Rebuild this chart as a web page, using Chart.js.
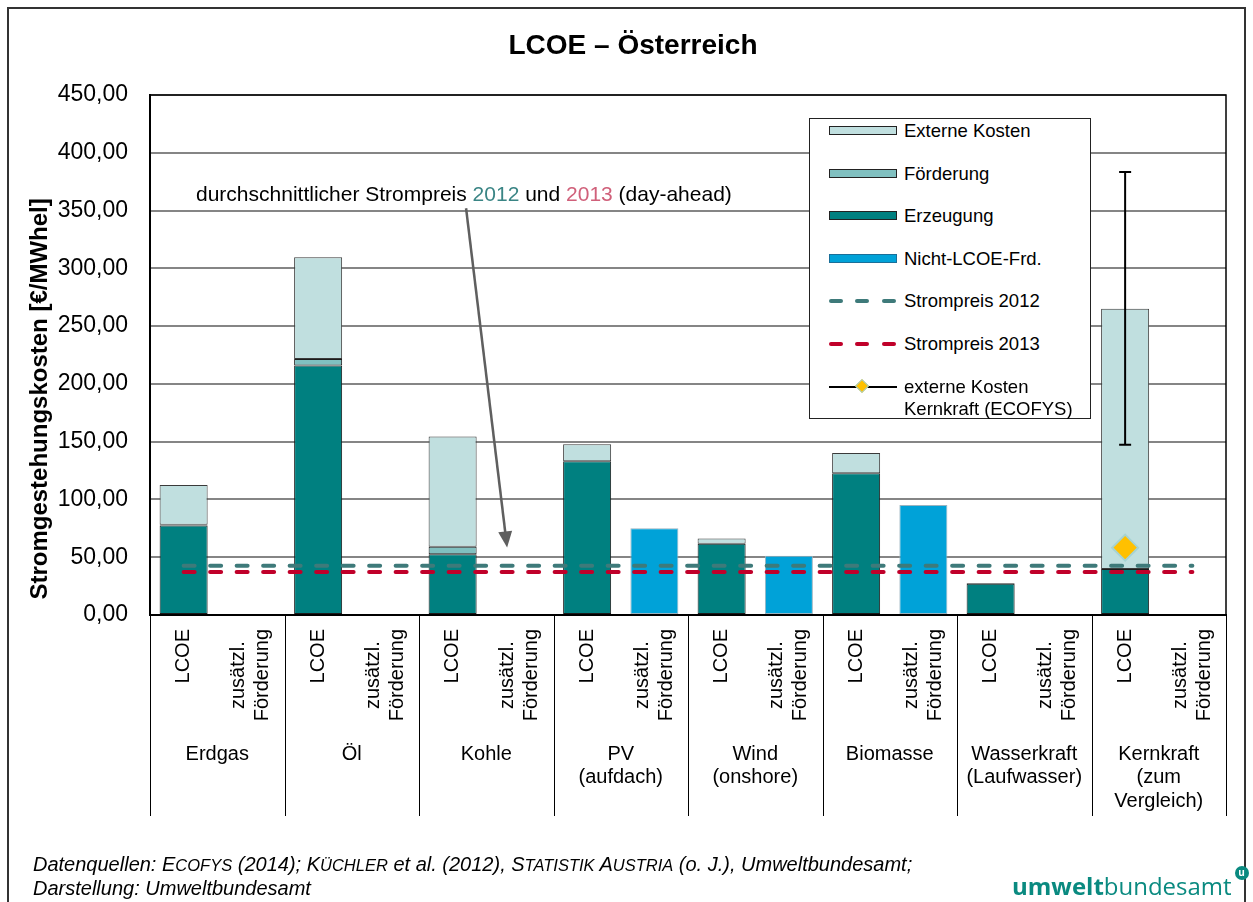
<!DOCTYPE html>
<html>
<head>
<meta charset="utf-8">
<title>LCOE – Österreich</title>
<script src="https://cdn.jsdelivr.net/npm/chart.js@4.4.1/dist/chart.umd.min.js"></script>
<style>
    body { margin: 0; background: #fff; font-family: "Liberation Sans", Arial, sans-serif; }
    #wrap { position: relative; width: 1253px; height: 902px; overflow: hidden; }
    #frame { position: absolute; left: 7px; top: 7px; width: 1239px; height: 940px; border: 2px solid #333; box-sizing: border-box; }
    #lcoeChart { position: absolute; left: 0; top: 0; }
    #legend { position: absolute; left: 809px; top: 118px; width: 282px; height: 301px; border: 1px solid #222; background: #fff; box-sizing: border-box; font-size: 18.5px; color: #000; }
    .row { position: absolute; left: 0; width: 100%; }
    .sw { position: absolute; left: 19px; width: 68px; height: 9px; border: 1px solid #222; box-sizing: border-box; }
    .dash { position: absolute; width: 14px; height: 4px; border-radius: 2px; }
    .txt { position: absolute; left: 94px; line-height: 22px; white-space: nowrap; }
    #source { position: absolute; left: 33px; top: 853px; font-style: italic; font-size: 20px; line-height: 23px; color: #000; white-space: nowrap; }
    .sm { font-size: 16.5px; }
    #logo { position: absolute; left: 1012px; top: 869px; font-size: 24px; color: #0a8a80; white-space: nowrap; font-family: "Open Sans", "Liberation Sans", sans-serif; }
    #logo b { font-weight: 700; }
    #logo .u { position: absolute; right: -17px; top: -3px; width: 14px; height: 14px; border-radius: 7px; background: #0a8a80; color: #fff; font-size: 10px; line-height: 13px; text-align: center; font-weight: 700; }
</style>
</head>
<body>
<div id="wrap">
    <canvas id="lcoeChart" width="1253" height="902"></canvas>
    <div id="frame"></div>
    <div id="legend"></div>
    <div id="source">Datenquellen: E<span class="sm">COFYS</span> (2014); K<span class="sm">ÜCHLER</span> et al. (2012), S<span class="sm">TATISTIK</span> A<span class="sm">USTRIA</span> (o. J.), Umweltbundesamt;<br>Darstellung: Umweltbundesamt</div>
    <div id="logo"><b>umwelt</b>bundesamt<span class="u">u</span></div>
</div>
<script>
// Categories: each group has an LCOE column and a "zusätzl. Förderung" column
const groups = ['Erdgas', 'Öl', 'Kohle', ['PV', '(aufdach)'], ['Wind', '(onshore)'], 'Biomasse',
    ['Wasserkraft', '(Laufwasser)'], ['Kernkraft', '(zum', 'Vergleich)']];
const subLabels = ['LCOE', ['zusätzl.', 'Förderung']];

// Values in €/MWhel, one entry per column (LCOE, zusätzl. Förderung) x group
const erzeugung     = [77.5, null, 216.0, null, 52.5, null, 133.0, null, 61.7, null, 122.6, null, 27.0, null, 39.8, null];
const foerderung    = [0.6,  null, 5.5,   null, 6.5,  null, null,  null, null, null, null,  null, null, null, null, null];
const externeKosten = [34.4, null, 88.0,  null, 95.5, null, 14.7,  null, 4.6,  null, 17.6,  null, 0.6,  null, 225.3, null];
const nichtLcoeFrd  = [null, null, null,  null, null, null, null,  75.0, null, 51.3, null,  95.2, null, null, null, null];

// Average day-ahead electricity prices
const strompreis2012 = 42.7;
const strompreis2013 = 37.2;

// External costs nuclear (ECOFYS): point value and range
const ecofysKern     = [null, null, null, null, null, null, null, null, null, null, null, null, null, null, 58.3, null];
const ecofysKernLow  = [null, null, null, null, null, null, null, null, null, null, null, null, null, null, 147.4, null];
const ecofysKernHigh = [null, null, null, null, null, null, null, null, null, null, null, null, null, null, 383.4, null];

const yTicks = { min: 0, max: 450, step: 50 };

const chartTitle = 'LCOE – Österreich';
const yTitle = 'Stromgestehungskosten [€/MWhel]';

const FONT = '"Liberation Sans", Arial, sans-serif';
const colors = {
    externe: '#c0dfdf',
    foerderung: '#80c0c0',
    erzeugung: '#008080',
    nicht: '#00a2d8',
    p2012: '#3e7a7a',
    p2013: '#c0002a'
};

// one label per column
const labels = [];
groups.forEach(g => {
    const name = Array.isArray(g) ? g.join(' ') : g;
    labels.push(name + ' LCOE');
    labels.push(name + ' zusätzl. Förderung');
});

const priceLine = v => labels.map(() => v);

// Legend (HTML, built from the dataset colours)
function buildLegend() {
    const legend = document.getElementById('legend');
    const items = [
        { text: 'Externe Kosten', fill: colors.externe },
        { text: 'Förderung', fill: colors.foerderung },
        { text: 'Erzeugung', fill: colors.erzeugung },
        { text: 'Nicht-LCOE-Frd.', fill: colors.nicht, border: '#1a6f99' },
        { text: 'Strompreis 2012', dash: colors.p2012 },
        { text: 'Strompreis 2013', dash: colors.p2013 },
        { text: 'externe Kosten<br>Kernkraft (ECOFYS)', marker: true }
    ];
    items.forEach((it, i) => {
        const row = document.createElement('div');
        row.className = 'row';
        const cy = 12 + i * 42.6;
        row.style.top = (cy - 11) + 'px';
        let html = '';
        if (it.fill) {
            html += `<div class="sw" style="top:6px;background:${it.fill};${it.border ? 'border-color:' + it.border : ''}"></div>`;
        } else if (it.dash) {
            [19, 45, 72].forEach(x => {
                html += `<div class="dash" style="left:${x}px;top:9px;background:${it.dash}"></div>`;
            });
        } else if (it.marker) {
            html += `<div style="position:absolute;left:19px;top:10px;width:68px;height:2px;background:#000"></div>`;
            html += `<div style="position:absolute;left:47px;top:5px;width:8px;height:8px;background:#ffc000;border:1px solid #9fd0d0;transform:rotate(45deg)"></div>`;
        }
        html += `<div class="txt" style="top:0">${it.text}</div>`;
        row.innerHTML = html;
        legend.appendChild(row);
    });
}

// Titles, plot frame, multi-level x labels, annotation arrow and ECOFYS range
const decorations = {
    id: 'decorations',
    beforeDatasetsDraw(chart) {
        const { ctx, chartArea: a } = chart;
        ctx.save();
        ctx.strokeStyle = '#000';
        ctx.lineWidth = 1.5;
        ctx.strokeRect(a.left, a.top, a.right - a.left, a.bottom - a.top);
        ctx.restore();
    },
    afterDatasetsDraw(chart) {
        const { ctx } = chart;
        const x = chart.scales.x;
        const y = chart.scales.y;

        // ECOFYS range whisker
        ctx.save();
        ctx.strokeStyle = '#000';
        ctx.lineWidth = 2;
        ecofysKernLow.forEach((lo, i) => {
            if (lo === null) return;
            const px = x.getPixelForValue(i);
            const y1 = y.getPixelForValue(lo);
            const y2 = y.getPixelForValue(ecofysKernHigh[i]);
            ctx.beginPath();
            ctx.moveTo(px, y1); ctx.lineTo(px, y2);
            ctx.moveTo(px - 6, y1); ctx.lineTo(px + 6, y1);
            ctx.moveTo(px - 6, y2); ctx.lineTo(px + 6, y2);
            ctx.stroke();
        });
        ctx.restore();
    },
    afterDraw(chart) {
        const { ctx, chartArea: a } = chart;
        const x = chart.scales.x;
        const y = chart.scales.y;
        const colW = (a.right - a.left) / labels.length;

        ctx.save();
        // chart title
        ctx.fillStyle = '#000';
        ctx.textAlign = 'center';
        ctx.textBaseline = 'middle';
        ctx.font = 'bold 28px ' + FONT;
        ctx.fillText(chartTitle, 633, 46);

        // y axis title
        ctx.save();
        ctx.translate(40, y.getPixelForValue(187));
        ctx.rotate(-Math.PI / 2);
        ctx.font = 'bold 24px ' + FONT;
        ctx.fillText(yTitle, 0, 0);
        ctx.restore();

        // group separators below the axis
        ctx.strokeStyle = '#000';
        ctx.lineWidth = 1;
        for (let g = 0; g <= groups.length; g++) {
            const px = Math.round(a.left + g * 2 * colW) + 0.5;
            ctx.beginPath();
            ctx.moveTo(px, a.bottom);
            ctx.lineTo(px, a.bottom + 201);
            ctx.stroke();
        }

        // rotated column labels
        ctx.font = '20px ' + FONT;
        labels.forEach((_, i) => {
            const sub = subLabels[i % 2];
            const lines = Array.isArray(sub) ? sub : [sub];
            const maxW = Math.max(...lines.map(l => ctx.measureText(l).width));
            const cx = x.getPixelForValue(i);
            const cy = a.bottom + 14 + maxW / 2;
            const lh = 24;
            lines.forEach((l, k) => {
                ctx.save();
                ctx.translate(cx + (k - (lines.length - 1) / 2) * lh, cy);
                ctx.rotate(-Math.PI / 2);
                ctx.fillText(l, 0, 0);
                ctx.restore();
            });
        });

        // group labels
        groups.forEach((g, gi) => {
            const lines = Array.isArray(g) ? g : [g];
            const cx = a.left + (gi * 2 + 1) * colW;
            lines.forEach((l, k) => ctx.fillText(l, cx, a.bottom + 139 + k * 23.5));
        });

        // annotation for the price lines
        ctx.font = '21px ' + FONT;
        ctx.textAlign = 'left';
        const parts = [
            ['durchschnittlicher Strompreis ', '#000'],
            ['2012', '#3a8585'],
            [' und ', '#000'],
            ['2013', '#d0607a'],
            [' (day-ahead)', '#000']
        ];
        let tx = a.left + 46;
        const ty = y.getPixelForValue(363);
        parts.forEach(([t, c]) => {
            ctx.fillStyle = c;
            ctx.fillText(t, tx, ty);
            tx += ctx.measureText(t).width;
        });

        // arrow
        const sx = x.getPixelForValue(4.2), sy = y.getPixelForValue(352);
        const ex = x.getPixelForValue(4.81), ey = y.getPixelForValue(58.5);
        const ang = Math.atan2(ey - sy, ex - sx);
        ctx.strokeStyle = '#5f5f5f';
        ctx.fillStyle = '#5f5f5f';
        ctx.lineWidth = 2.5;
        ctx.beginPath();
        ctx.moveTo(sx, sy);
        ctx.lineTo(ex - 14 * Math.cos(ang), ey - 14 * Math.sin(ang));
        ctx.stroke();
        ctx.beginPath();
        ctx.moveTo(ex, ey);
        ctx.lineTo(ex - 16 * Math.cos(ang) + 7 * Math.sin(ang), ey - 16 * Math.sin(ang) - 7 * Math.cos(ang));
        ctx.lineTo(ex - 16 * Math.cos(ang) - 7 * Math.sin(ang), ey - 16 * Math.sin(ang) + 7 * Math.cos(ang));
        ctx.closePath();
        ctx.fill();
        ctx.restore();
    }
};

const barBase = {
    type: 'bar',
    stack: 'lcoe',
    order: 2,
    borderColor: '#1b1b1b',
    borderWidth: 1,
    borderSkipped: false
};

const lineBase = {
    type: 'line',
    pointRadius: 0,
    borderWidth: 4,
    borderDash: [11, 15.5],
    borderCapStyle: 'round',
    fill: false,
    order: 1
};

buildLegend();

const ctx = document.getElementById('lcoeChart').getContext('2d');
const lcoeChart = new Chart(ctx, {
    data: {
        labels: labels,
        datasets: [
            { ...barBase, label: 'Erzeugung', data: erzeugung, backgroundColor: colors.erzeugung },
            { ...barBase, label: 'Förderung', data: foerderung, backgroundColor: colors.foerderung },
            { ...barBase, label: 'Externe Kosten', data: externeKosten, backgroundColor: colors.externe, borderColor: '#3a3a3a' },
            { ...barBase, label: 'Nicht-LCOE-Frd.', data: nichtLcoeFrd, backgroundColor: colors.nicht, borderColor: '#9ab3bf' },
            { ...lineBase, label: 'Strompreis 2012', data: priceLine(strompreis2012), borderColor: colors.p2012, stack: 'p2012' },
            { ...lineBase, label: 'Strompreis 2013', data: priceLine(strompreis2013), borderColor: colors.p2013, stack: 'p2013' },
            {
                type: 'line', label: 'externe Kosten Kernkraft (ECOFYS)', data: ecofysKern, stack: 'ecofys',
                showLine: false, pointStyle: 'rectRot', pointRadius: 13,
                pointBackgroundColor: '#ffc000', pointBorderColor: '#a6d3d3', pointBorderWidth: 2, order: 0
            }
        ]
    },
    options: {
        responsive: false,
        animation: false,
        devicePixelRatio: 1,
        layout: { padding: { left: 0, right: 27, top: 95, bottom: 0 } },
        datasets: {
            bar: { barPercentage: 0.714, categoryPercentage: 1 }
        },
        plugins: {
            legend: { display: false },
            tooltip: { enabled: false },
            title: { display: false }
        },
        scales: {
            x: {
                stacked: true,
                ticks: { display: false },
                grid: { display: false },
                border: { color: '#000', width: 2 },
                afterFit(scale) { scale.height = 287; }
            },
            y: {
                stacked: true,
                min: yTicks.min,
                max: yTicks.max,
                afterFit(scale) { scale.width = 150; },
                ticks: {
                    stepSize: yTicks.step,
                    padding: 22,
                    color: '#000',
                    font: { family: FONT, size: 23 },
                    callback: v => v.toFixed(2).replace('.', ',')
                },
                grid: { color: '#858585', lineWidth: 2, drawTicks: false },
                border: { color: '#000', width: 2 },
                title: { display: false }
            }
        }
    },
    plugins: [decorations]
});
</script>
</body>
</html>
